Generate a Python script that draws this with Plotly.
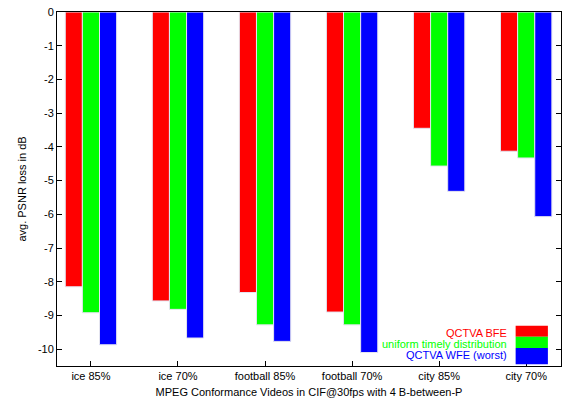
import plotly.graph_objects as go

categories = ["ice 85%", "ice 70%", "football 85%", "football 70%", "city 85%", "city 70%"]
bfe = [-8.15, -8.57, -8.32, -8.90, -3.45, -4.13]
uniform = [-8.92, -8.82, -9.28, -9.28, -4.57, -4.33]
wfe = [-9.87, -9.67, -9.77, -10.10, -5.32, -6.07]
series_names = ["QCTVA BFE", "uniform timely distribution", "QCTVA WFE (worst)"]
colors = ["#ff0000", "#00ff00", "#0000ff"]
y_ticks = [0, -1, -2, -3, -4, -5, -6, -7, -8, -9, -10]

FONT = "Liberation Sans, Arial, Helvetica, sans-serif"
x_idx = list(range(len(categories)))

fig = go.Figure()
for name, vals, col in zip(series_names, [bfe, uniform, wfe], colors):
    fig.add_trace(go.Bar(x=x_idx, y=vals, name=name,
                         marker=dict(color=col, line=dict(color="#e4e4f0", width=1)),
                         showlegend=False))

fig.update_layout(
    width=562, height=401,
    margin=dict(l=57, r=1, t=12, b=35),
    paper_bgcolor="white", plot_bgcolor="white",
    barmode="group", bargap=0.41, bargroupgap=0,
    font=dict(family=FONT, size=11, color="black"),
)
fig.update_xaxes(
    tickmode="array", tickvals=x_idx, ticktext=categories,
    range=[-0.39, 5.4],
    showline=True, linecolor="black", linewidth=1, mirror=True,
    ticks="inside", ticklen=5, tickcolor="black",
    showgrid=False, zeroline=False,
    title=dict(text="MPEG Conformance Videos in CIF@30fps with 4 B-between-P",
               font=dict(size=11), standoff=7),
)
fig.update_yaxes(
    tickmode="array", tickvals=y_ticks, ticktext=[str(v) for v in y_ticks],
    range=[-10.5, 0],
    showline=True, linecolor="black", linewidth=1, mirror="ticks",
    ticks="inside", ticklen=5, tickcolor="black",
    showgrid=False, zeroline=False,
    title=dict(text="avg. PSNR loss in dB", font=dict(size=11), standoff=9),
)

# manual legend: right-aligned colored text, swatches on the right
text_y = [0.0932, 0.0621, 0.0311]
swatch_y = [(0.0828, 0.1138), (0.0508, 0.0828), (0.0048, 0.0508)]
for name, col, ty, (y0, y1) in zip(series_names, colors, text_y, swatch_y):
    fig.add_annotation(xref="paper", yref="paper", x=0.896, y=ty,
                       text=name, showarrow=False, xanchor="right", yanchor="middle",
                       font=dict(color=col, size=11, family=FONT))
    fig.add_shape(type="rect", xref="paper", yref="paper",
                  x0=0.910, x1=0.974, y0=y0, y1=y1,
                  fillcolor=col, line=dict(width=0))

fig.write_html("out.html", config={"displayModeBar": False},
               post_script="document.body.style.margin='0px';document.body.style.overflow='hidden';")
